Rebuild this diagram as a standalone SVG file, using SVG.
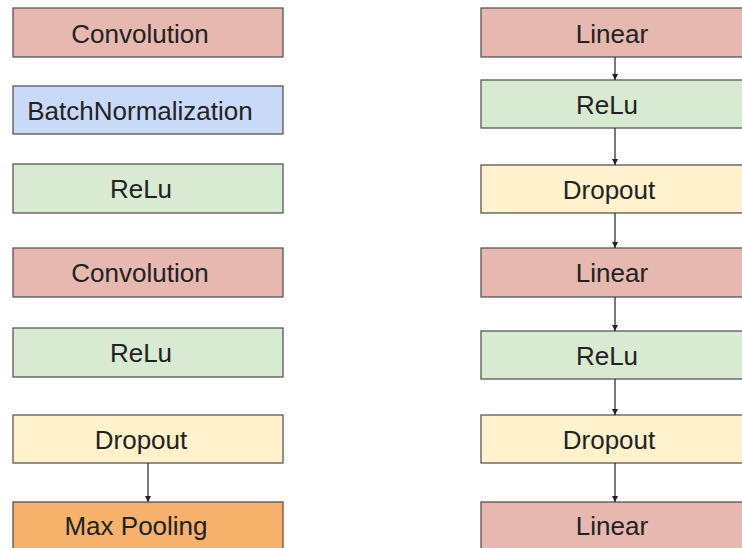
<svg xmlns="http://www.w3.org/2000/svg" width="742" height="548" viewBox="0 0 742 548">
  <style>
    .box { stroke: #4a4a4a; stroke-width: 1.2; }
    .conv, .lin { fill: #e6b8af; }
    .bn { fill: #c9daf8; }
    .relu { fill: #d9ead3; }
    .drop { fill: #fff2cc; }
    .pool { fill: #f6b26b; }
    .label { font-family: "Liberation Sans", Arial, sans-serif; font-size: 26px; fill: #222; text-anchor: middle; }
    .edge { stroke: #222; stroke-width: 1.2; fill: none; marker-end: url(#arrow); }
  </style>
  <defs>
    <marker id="arrow" viewBox="0 0 8 8" refX="8" refY="4" markerWidth="6" markerHeight="6" markerUnits="userSpaceOnUse" orient="auto">
      <path d="M0,0 L8,4 L0,8 Z" fill="#222"/>
    </marker>
  </defs>
  <rect width="742" height="548" fill="#ffffff"/>

  <!-- Convolutional block -->
  <g id="conv1"><rect class="box conv" x="13" y="8" width="270" height="49"/><text class="label" x="140" y="43">Convolution</text></g>
  <g id="batchnorm"><rect class="box bn" x="13" y="86" width="270" height="48"/><text class="label" x="140" y="120">BatchNormalization</text></g>
  <g id="relu1"><rect class="box relu" x="13" y="164" width="270" height="49"/><text class="label" x="141" y="198">ReLu</text></g>
  <g id="conv2"><rect class="box conv" x="13" y="248" width="270" height="49"/><text class="label" x="140" y="282">Convolution</text></g>
  <g id="relu2"><rect class="box relu" x="13" y="328" width="270" height="49"/><text class="label" x="141" y="362">ReLu</text></g>
  <g id="drop1"><rect class="box drop" x="13" y="415" width="270" height="48"/><text class="label" x="141" y="449">Dropout</text></g>
  <g id="maxpool"><rect class="box pool" x="13" y="502" width="270" height="49"/><text class="label" x="136" y="535">Max Pooling</text></g>

  <!-- Fully connected block -->
  <g id="fc1"><rect class="box lin" x="481" y="8" width="265" height="49"/><text class="label" x="612" y="43">Linear</text></g>
  <g id="fcrelu1"><rect class="box relu" x="481" y="80" width="265" height="48"/><text class="label" x="607" y="114">ReLu</text></g>
  <g id="fcdrop1"><rect class="box drop" x="481" y="165" width="265" height="48"/><text class="label" x="609" y="199">Dropout</text></g>
  <g id="fc2"><rect class="box lin" x="481" y="248" width="265" height="49"/><text class="label" x="612" y="282">Linear</text></g>
  <g id="fcrelu2"><rect class="box relu" x="481" y="331" width="265" height="48"/><text class="label" x="607" y="365">ReLu</text></g>
  <g id="fcdrop2"><rect class="box drop" x="481" y="415" width="265" height="48"/><text class="label" x="609" y="449">Dropout</text></g>
  <g id="fc3"><rect class="box lin" x="481" y="502" width="265" height="49"/><text class="label" x="612" y="535">Linear</text></g>

  <g id="connectors">
    <line class="edge" x1="148" y1="463" x2="148" y2="502"/>
    <line class="edge" x1="615" y1="57" x2="615" y2="80"/>
    <line class="edge" x1="615" y1="128" x2="615" y2="165"/>
    <line class="edge" x1="615" y1="213" x2="615" y2="248"/>
    <line class="edge" x1="615" y1="297" x2="615" y2="331"/>
    <line class="edge" x1="615" y1="379" x2="615" y2="415"/>
    <line class="edge" x1="615" y1="463" x2="615" y2="502"/>
  </g>
</svg>
